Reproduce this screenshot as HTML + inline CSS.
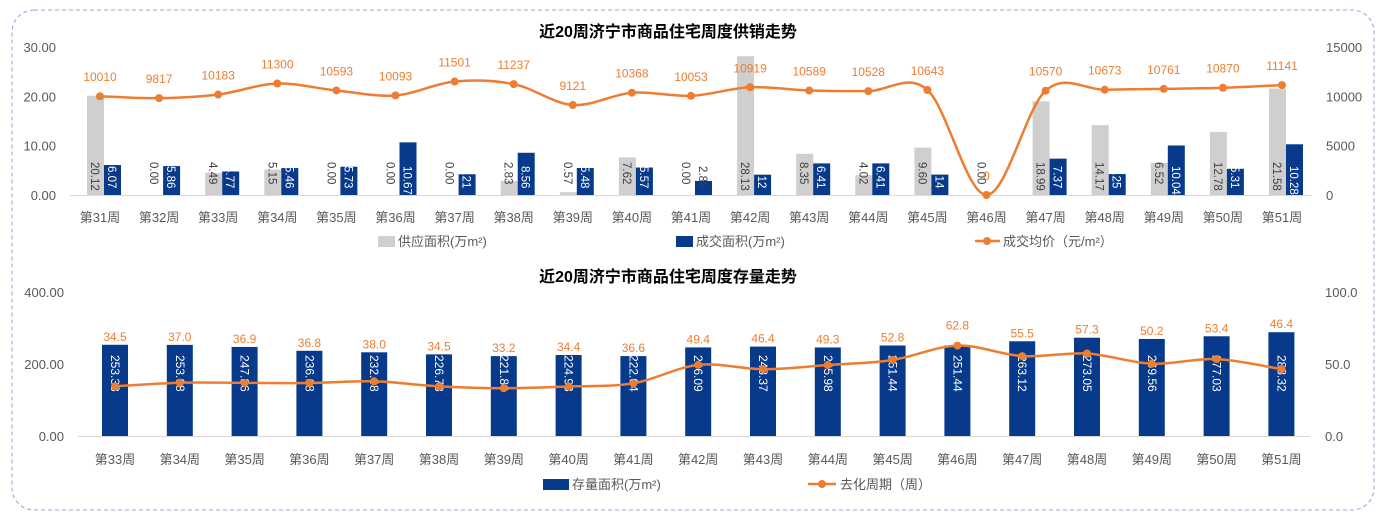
<!DOCTYPE html>
<html><head><meta charset="utf-8"><style>
html,body{margin:0;padding:0;background:#fff;}
svg text{font-family:"Liberation Sans","Noto Sans CJK SC",sans-serif;}
</style></head><body>
<svg id="s" width="1385" height="517" xmlns="http://www.w3.org/2000/svg">
<rect x="12" y="10" width="1362" height="500" rx="22" ry="22" fill="none" stroke="#8fa9d6" stroke-width="1" stroke-dasharray="4,3"/>
</svg>
<script>
var s=document.getElementById('s'),h='';
function t(x,y,str,o){o=o||{};h+='<text x="'+x+'" y="'+y+'" font-size="'+(o.fs||12)+'" fill="'+(o.c||'#595959')+'" text-anchor="'+(o.a||'middle')+'"'+(o.w?' font-weight="bold"':'')+(o.tr?' transform="'+o.tr+'"':'')+'>'+str+'</text>';}
function smooth(p){var d='M'+p[0][0]+','+p[0][1];for(var i=0;i<p.length-1;i++){var p0=p[i-1]||p[i],p1=p[i],p2=p[i+1],p3=p[i+2]||p2;var k=6;d+=' C'+(p1[0]+(p2[0]-p0[0])/k)+','+(p1[1]+(p2[1]-p0[1])/k)+' '+(p2[0]-(p3[0]-p1[0])/k)+','+(p2[1]-(p3[1]-p1[1])/k)+' '+p2[0]+','+p2[1];}return d;}
// Top chart
t(668,37,'近20周济宁市商品住宅周度供销走势',{fs:16,w:1,c:'#000'});
var y0=195,pu=4.933;
for(var i=0;i<=3;i++){var y=y0-i*10*pu;t(56,y+5,(i*10).toFixed(2),{a:'end',fs:13});t(1326,y+5,i*5000,{a:'start',fs:13});}
h+='<line x1="70" y1="195.5" x2="1312" y2="195.5" stroke="#d9d9d9"/>';
var sup=[20.12,0,4.49,5.15,0,0,0,2.83,0.57,7.62,0,28.13,8.35,4.02,9.60,0,18.99,14.17,6.52,12.78,21.58];
var deal=[6.07,5.86,4.77,5.46,5.73,10.67,4.21,8.56,5.48,5.57,2.85,4.12,6.41,6.41,4.14,0,7.37,4.25,10.04,5.31,10.28];
var pr=[10010,9817,10183,11300,10593,10093,11501,11237,9121,10368,10053,10919,10589,10528,10643,0,10570,10673,10761,10870,11141];
var pts=[];
for(var i=0;i<21;i++){var cx=100+i*59.1;
var hs=sup[i]*pu;h+='<rect x="'+(cx-13)+'" y="'+(y0-hs)+'" width="17" height="'+hs+'" fill="#d0cece"/>';
var hd=deal[i]*pu;h+='<rect x="'+(cx+4)+'" y="'+(y0-hd)+'" width="17" height="'+hd+'" fill="#073a8a"/>';
t(0,0,sup[i].toFixed(2),{fs:11.5,c:'#404040',a:'start',tr:'translate('+(cx-9)+',162) rotate(90)'});
if(deal[i]>0)t(0,0,deal[i].toFixed(2),{fs:11.5,c:deal[i]>3?'#fff':'#404040',a:'start',tr:'translate('+(cx+8)+',166) rotate(90)'});
t(cx,222,'第'+(31+i)+'周',{fs:13});
var py=y0-pr[i]/15000*148;pts.push([cx,py]);}
h+='<path d="'+smooth(pts)+'" fill="none" stroke="#ed7d31" stroke-width="2.5"/>';
pts.forEach(function(p,i){h+='<circle cx="'+p[0]+'" cy="'+p[1]+'" r="4" fill="#ed7d31"/>';t(p[0],p[1]-15,pr[i],{fs:12,c:'#ed7d31'});});
h+='<rect x="378" y="236" width="17" height="11" fill="#d0cece"/>';t(398,246,'供应面积(万m²)',{a:'start',fs:13});
h+='<rect x="676" y="236" width="17" height="11" fill="#073a8a"/>';t(696,246,'成交面积(万m²)',{a:'start',fs:13});
h+='<line x1="975" y1="241" x2="1000" y2="241" stroke="#ed7d31" stroke-width="2.5"/><circle cx="987" cy="241" r="4" fill="#ed7d31"/>';t(1003,246,'成交均价（元/m²）',{a:'start',fs:13});
// Bottom chart
t(668,282,'近20周济宁市商品住宅周度存量走势',{fs:16,w:1,c:'#000'});
var b0=436,bu=0.36;
for(var i=0;i<=2;i++){var y=b0-i*200*bu;t(64,y+5,(i*200).toFixed(2),{a:'end',fs:13});t(1325,y+5,(i*50).toFixed(1),{a:'start',fs:13});}
h+='<line x1="78" y1="436.5" x2="1310" y2="436.5" stroke="#d9d9d9"/>';
var st=[253.38,253.08,247.36,236.68,232.48,226.78,221.89,224.98,222.04,246.09,248.37,245.98,251.44,251.44,263.12,273.05,269.56,277.03,288.32];
var cy=[34.5,37.0,36.9,36.8,38.0,34.5,33.2,34.4,36.6,49.4,46.4,49.3,52.8,62.8,55.5,57.3,50.2,53.4,46.4];
var p2=[],tops=[];
for(var i=0;i<19;i++){var cx=115+i*64.8;var hb=st[i]*bu;tops.push(b0-hb);
h+='<rect x="'+(cx-13)+'" y="'+(b0-hb)+'" width="26" height="'+hb+'" fill="#073a8a"/>';
t(0,0,st[i].toFixed(2),{fs:12,c:'#fff',a:'start',tr:'translate('+(cx-4)+',355) rotate(90)'});
t(cx,464,'第'+(33+i)+'周',{fs:13});
p2.push([cx,b0-cy[i]*1.44]);}
h+='<path d="'+smooth(p2)+'" fill="none" stroke="#ed7d31" stroke-width="2.5"/>';
p2.forEach(function(p,i){h+='<circle cx="'+p[0]+'" cy="'+p[1]+'" r="4" fill="#ed7d31"/>';t(p[0],Math.min(p[1]-16,tops[i]-4),cy[i].toFixed(1),{fs:12,c:'#ed7d31'});});
h+='<rect x="543" y="479" width="26" height="11" fill="#073a8a"/>';t(572,489,'存量面积(万m²)',{a:'start',fs:13});
h+='<line x1="808" y1="484" x2="836" y2="484" stroke="#ed7d31" stroke-width="2.5"/><circle cx="822" cy="484" r="4" fill="#ed7d31"/>';t(840,489,'去化周期（周）',{a:'start',fs:13});
s.innerHTML+=h;
</script>
</body></html>
